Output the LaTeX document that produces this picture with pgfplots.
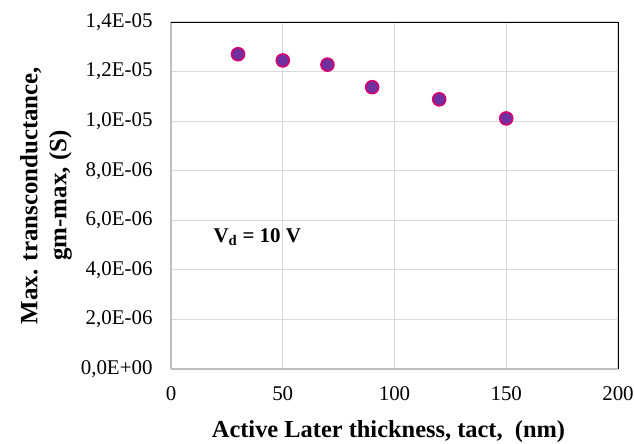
\documentclass[border=0pt]{standalone}
\usepackage{pgfplots}
\pgfplotsset{compat=1.18}
\usepackage{fontspec}
\setmainfont{Liberation Serif}
\definecolor{gridgray}{HTML}{D9D9D9}
\definecolor{axisgray}{HTML}{BFBFBF}
\definecolor{ptfill}{HTML}{7030A0}
\definecolor{ptedge}{HTML}{D6006E}
\begin{document}
\begin{tikzpicture}
\useasboundingbox (-171bp,-75bp) rectangle (464bp,369bp);
\begin{axis}[
  at={(0,0)}, anchor=south west,
  scale only axis, width=447bp, height=347bp,
  xmin=0, xmax=200, ymin=0, ymax=1.4e-5,
  xtick={0,50,100,150,200},
  ytick={0,2e-6,4e-6,6e-6,8e-6,1e-5,1.2e-5,1.4e-5},
  yticklabels={{0,0E+00},{2,0E-06},{4,0E-06},{6,0E-06},{8,0E-06},{1,0E-05},{1,2E-05},{1,4E-05}},
  scaled y ticks=false,
  /pgf/number format/assume math mode=true,
  tick label style={font=\fontsize{21}{24}\selectfont},
  major tick length=0pt,
  grid=major,
  major grid style={gridgray, line width=1.2pt},
  axis line style={draw=none},
  yticklabel style={xshift=-15bp},
  xticklabel style={yshift=-14bp},
  clip=false,
]
\draw[axisgray, line width=1.6pt] (axis cs:0,0) -- (axis cs:0,1.4e-5);
\draw[axisgray, line width=1.6pt] (axis cs:0,0) -- (axis cs:200,0);
\draw[black, line width=0.8pt] (axis cs:0,1.4e-5) -- (axis cs:200,1.4e-5) -- (axis cs:200,0);
\addplot[only marks, mark=*, mark size=6.5bp,
  mark options={fill=ptfill, draw=ptedge, line width=1.6pt}]
  coordinates {(30,1.270e-5) (50,1.245e-5) (70,1.228e-5) (90,1.137e-5) (120,1.088e-5) (150,1.011e-5)};
\node[anchor=west, font=\fontsize{21}{24}\selectfont\bfseries] at (axis cs:17.5,5.32e-6) {V\textsubscript{d} = 10 V};
% axis titles
\node[anchor=base, font=\fontsize{24.5}{28}\selectfont\bfseries]
  at ([yshift=-68bp]axis cs:97.3,0) {Active Later thickness, tact,\ \ (nm)};
\node[rotate=90, align=center, font=\fontsize{25}{29}\selectfont\bfseries]
  at ([xshift=-125bp]rel axis cs:0,0.5) {Max. transconductance,\\gm-max, (S)};
\end{axis}
\end{tikzpicture}
\end{document}
